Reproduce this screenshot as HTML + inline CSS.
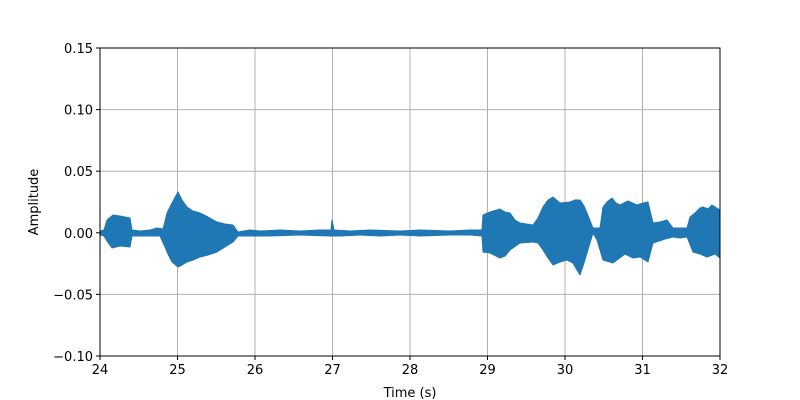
<!DOCTYPE html>
<html><head><meta charset="utf-8"><style>body{margin:0;background:#fff}svg{display:block}text{font-family:"DejaVu Sans","Liberation Sans",sans-serif;font-size:13px;fill:#000}</style></head><body>
<svg width="800" height="400" xmlns="http://www.w3.org/2000/svg">
<rect width="800" height="400" fill="#fff"/>
<g stroke="#b0b0b0" stroke-width="1">
<line x1="177.5" y1="48" x2="177.5" y2="356"/><line x1="255" y1="48" x2="255" y2="356"/><line x1="332.5" y1="48" x2="332.5" y2="356"/><line x1="410" y1="48" x2="410" y2="356"/><line x1="487.5" y1="48" x2="487.5" y2="356"/><line x1="565" y1="48" x2="565" y2="356"/><line x1="642.5" y1="48" x2="642.5" y2="356"/>
<line x1="100" y1="109.6" x2="720" y2="109.6"/><line x1="100" y1="171.2" x2="720" y2="171.2"/><line x1="100" y1="232.8" x2="720" y2="232.8"/><line x1="100" y1="294.4" x2="720" y2="294.4"/>
</g>
<polygon fill="#1f77b4" stroke="#1f77b4" stroke-width="1" stroke-linejoin="round" points="100,231 104,230 107,220 113,215 120,216 130,218 132,230 140,231 150,230 157,228 163,229 167,213 172,203 178,192 182,200 187,207 193,211 200,213 208,217 217,222 225,224 233,225 238,232 250,230 260,231 280,230 300,231 320,230 331,230 332,220 334,230 350,231 370,230 400,231 420,230 450,231 470,230 482,230 483,215 490,212 500,209 505,212 510,213 515,220 520,223 533,225 538,218 543,207 548,200 553,197 560,203 570,202 575,200 580,200 584,206 587,213 593,228 600,228 603,207 607,202 612,198 616,203 620,205 628,201 637,205 643,203 648,202 653,223 660,222 667,220 673,228 687,228 690,217 695,213 700,208 703,207 708,209 712,205 720,210 720,258 715,254 707,257 700,254 693,252 687,237 680,238 673,237 665,239 653,243 648,262 640,257 633,258 625,254 613,263 603,260 597,240 593,233 587,253 583,266 580,275 577,270 573,263 567,260 560,262 553,265 548,258 543,250 538,243 533,242 520,243 510,250 505,256 500,258 490,253 483,252 482,236 470,235 450,235 420,236 400,235 380,236 360,235 340,236 334,236 330,236 300,235 270,236 240,236 238,236 233,242 225,247 217,252 208,255 200,257 193,260 187,262 182,265 178,267 172,262 167,252 165,247 160,236 140,236 132,236 130,247 120,246 112,248 107,241 104,236 100,235"/>
<rect x="100" y="48" width="620" height="308" fill="none" stroke="#000" stroke-width="1"/>
<g stroke="#000" stroke-width="1">
<line x1="100" y1="356" x2="100" y2="360"/><line x1="177.5" y1="356" x2="177.5" y2="360"/><line x1="255" y1="356" x2="255" y2="360"/><line x1="332.5" y1="356" x2="332.5" y2="360"/><line x1="410" y1="356" x2="410" y2="360"/><line x1="487.5" y1="356" x2="487.5" y2="360"/><line x1="565" y1="356" x2="565" y2="360"/><line x1="642.5" y1="356" x2="642.5" y2="360"/><line x1="720" y1="356" x2="720" y2="360"/>
<line x1="96" y1="48" x2="100" y2="48"/><line x1="96" y1="109.6" x2="100" y2="109.6"/><line x1="96" y1="171.2" x2="100" y2="171.2"/><line x1="96" y1="232.8" x2="100" y2="232.8"/><line x1="96" y1="294.4" x2="100" y2="294.4"/><line x1="96" y1="356" x2="100" y2="356"/>
</g>
<g text-anchor="middle">
<text x="100" y="374">24</text><text x="177.5" y="374">25</text><text x="255" y="374">26</text><text x="332.5" y="374">27</text><text x="410" y="374">28</text><text x="487.5" y="374">29</text><text x="565" y="374">30</text><text x="642.5" y="374">31</text><text x="720" y="374">32</text>
<text x="410" y="397">Time (s)</text>
</g>
<g text-anchor="end">
<text x="93" y="53">0.15</text><text x="93" y="114.6">0.10</text><text x="93" y="176.2">0.05</text><text x="93" y="237.8">0.00</text><text x="93" y="299.4">−0.05</text><text x="93" y="361">−0.10</text>
</g>
<text x="38" y="202" text-anchor="middle" transform="rotate(-90 38 202)">Amplitude</text>
</svg>
</body></html>
